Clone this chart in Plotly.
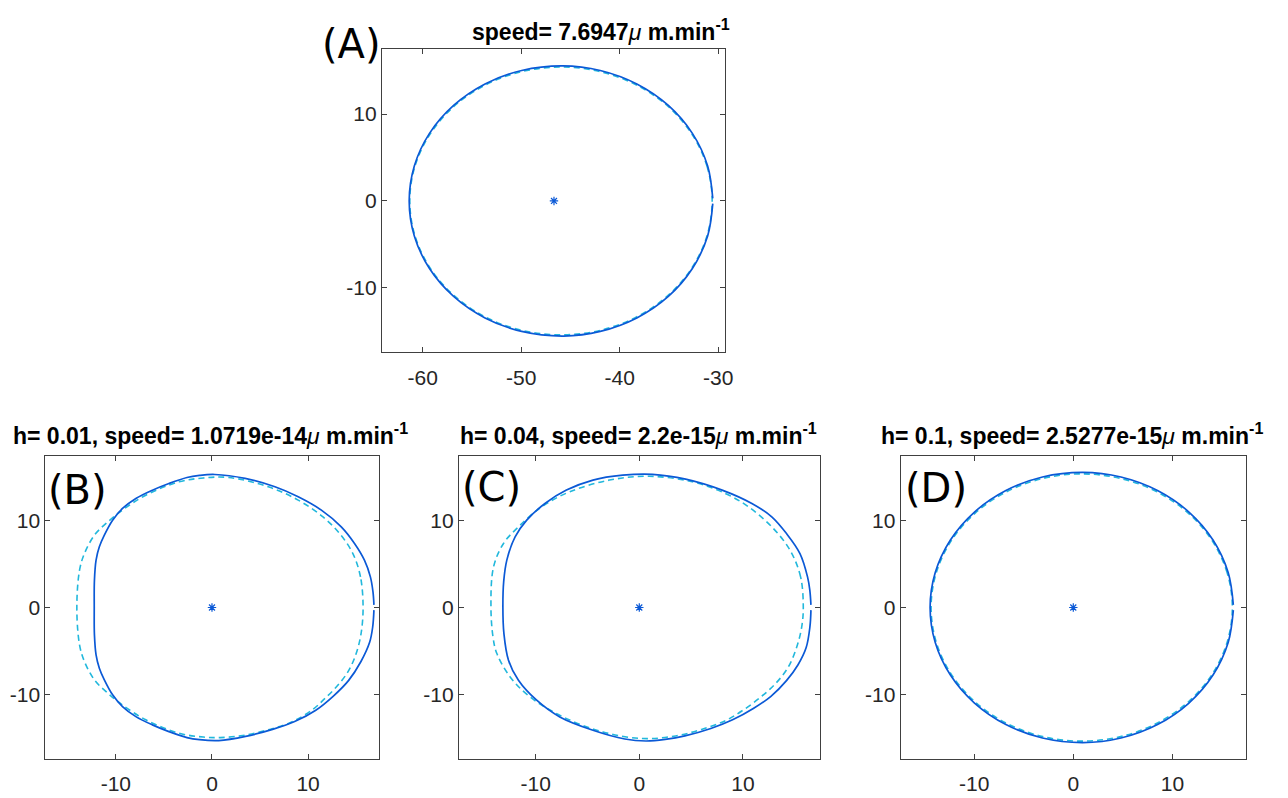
import plotly.graph_objects as go

W, H = 1288, 798

# ---------------- data ----------------
# Panel A
a_solid_x = [-30.55, -31.07, -32.62, -35.06, -38.26, -41.97, -45.8, -49.95, -53.67, -56.86, -59.31, -60.85, -61.37,
             -60.85, -59.31, -56.86, -53.67, -49.95, -45.7, -41.97, -38.26, -35.06, -32.62, -31.07, -30.55]
a_solid_y = [0.3, 4.02, 7.77, 10.98, 13.45, 15.0, 15.53, 15.0, 13.45, 10.98, 7.77, 4.02, 0,
             -4.02, -7.77, -10.98, -13.45, -15.0, -15.53, -15.0, -13.45, -10.98, -7.77, -4.02, -0.3]
a_dash_x = [-30.61, -31.13, -32.67, -35.11, -38.29, -41.99, -45.96, -49.93, -53.64, -56.81, -59.25, -60.79, -61.31,
            -60.79, -59.25, -56.81, -53.64, -49.93, -45.96, -41.99, -38.29, -35.11, -32.67, -31.13, -30.61]
a_dash_y = [0, 3.99, 7.70, 10.89, 13.34, 14.88, 15.40, 14.88, 13.34, 10.89, 7.70, 3.99, 0,
            -3.99, -7.70, -10.89, -13.34, -14.88, -15.40, -14.88, -13.34, -10.89, -7.70, -3.99, 0]
a_center = (-46.67, 0)

# Panel B
b_solid_x = [16.85, 16.75, 16.48, 15.86, 14.83, 13.45, 11.38, 8.97, 6.55, 3.45, 0.3, -1.3, -2.6, -4.48, -6.2,
             -7.92, -9.31, -10.34, -11.2, -11.72, -12.06, -12.23, -12.25, -12.23, -12.06, -11.72, -11.2, -10.34,
             -9.31, -7.92, -6.2, -4.48, -2.6, -1.3, 0.7, 3.5, 6.3, 8.6, 10.8, 12.6, 14.2, 15.5, 16.4, 16.72, 16.85]
b_solid_y = [0.3, 1.8, 3.52, 5.44, 7.36, 9.27, 11.19, 12.72, 13.87, 14.83, 15.28, 15.18, 14.94, 14.25, 13.48,
             12.53, 11.38, 10.03, 8.31, 6.97, 5.44, 3.14, 0, -3.14, -5.44, -6.97, -8.31, -10.03,
             -11.38, -12.53, -13.48, -14.25, -14.94, -15.18, -15.28, -14.8, -14.0, -13.1, -11.8, -10.2, -8.4,
             -6.2, -4.0, -2.23, -0.3]
b_dash_x = [15.72, 15.45, 14.66, 13.28, 11.55, 8.97, 5.86, 1.72, -0.9, -3.44, -6.89, -9.31, -11.02, -12.23,
            -13.27, -13.78, -14.06, -13.78, -13.27, -12.23, -11.02, -9.31, -6.89, -3.44, -0.9, 0.85, 3.2, 6.0,
            8.4, 10.5, 11.7, 12.93, 14.14, 15.0, 15.51, 15.72]
b_dash_y = [0, 3.52, 6.2, 8.5, 10.4, 12.34, 13.87, 14.94, 14.88, 14.44, 12.9, 11.2, 9.66, 8.31,
            6.2, 4.29, 0, -4.29, -6.2, -8.31, -9.66, -11.2, -12.9, -14.44, -14.88, -14.94, -14.7, -14.0,
            -13.1, -11.7, -10.5, -9.13, -7.4, -5.29, -2.99, 0]

# Panel C
c_solid_x = [16.56, 16.45, 16.23, 15.5, 14.2, 12.78, 10.86, 7.99, 4.47, 1.28, -1.6, -4.47, -7.03, -9.1,
             -10.86, -11.98, -12.78, -13.08, -13.16, -13.06, -12.62, -11.66, -9.9, -7.67, -4.47, -1.4, 0.64,
             2.5, 4.4, 6.9, 9.0, 11.0, 12.7, 14.2, 15.3, 16.1, 16.46, 16.56]
c_solid_y = [0.3, 2.0, 3.52, 6.2, 8.5, 10.42, 11.95, 13.49, 14.75, 15.3, 15.2, 14.64, 13.49, 11.95,
             10.04, 8.12, 5.44, 3.0, 0, -3.0, -6.05, -8.35, -10.65, -12.57, -14.1, -15.1, -15.33,
             -15.15, -14.75, -13.9, -12.9, -11.6, -10.2, -8.4, -6.6, -4.6, -2.23, -0.3]
c_dash_x = [15.82, 15.56, 14.54, 12.78, 10.54, 8.3, 5.11, 0.96, -2.88, -6.7, -9.42, -11.66, -13.1, -14.06,
            -14.31, -14.1, -13.74, -12.46, -10.54, -7.35, -3.5, 0.3, 3.5, 6.0, 8.3, 10.0, 11.7, 13.1, 14.38,
            15.19, 15.67, 15.82]
c_dash_y = [0, 3.52, 6.59, 9.27, 11.57, 13.1, 14.44, 15.08, 14.64, 13.3, 11.57, 9.27, 7.36, 4.67,
            0, -3.5, -5.29, -7.97, -10.27, -12.57, -14.3, -15.05, -14.75, -14.0, -13.0, -11.8, -10.3, -8.8,
            -6.83, -4.53, -2.23, 0]

# Panel D
d_solid_x = [16.15, 15.63, 14.10, 11.67, 8.50, 4.81, 0.95, -3.11, -6.80, -9.97, -12.40, -13.93, -14.45,
             -13.93, -12.40, -9.97, -6.80, -3.11, 0.95, 4.81, 8.50, 11.67, 14.10, 15.63, 16.15]
d_solid_y = [0.3, 4.02, 7.76, 10.97, 13.44, 14.99, 15.52, 14.99, 13.44, 10.97, 7.76, 4.02, 0,
             -4.02, -7.76, -10.97, -13.44, -14.99, -15.52, -14.99, -13.44, -10.97, -7.76, -4.02, -0.3]
d_dash_x = [16.05, 15.53, 14.01, 11.60, 8.45, 4.78, 0.85, -3.08, -6.75, -9.90, -12.31, -13.83, -14.35,
            -13.83, -12.31, -9.90, -6.75, -3.08, 0.85, 4.78, 8.45, 11.60, 14.01, 15.53, 16.05]
d_dash_y = [0, 3.98, 7.68, 10.85, 13.29, 14.83, 15.35, 14.83, 13.29, 10.85, 7.68, 3.98, 0,
            -3.98, -7.68, -10.85, -13.29, -14.83, -15.35, -14.83, -13.29, -10.85, -7.68, -3.98, 0]
bcd_center = (0, 0)

titles = [
    "<b>speed= 7.6947</b><i>μ</i><b> m.min</b><sup><b>-1</b></sup>",
    "<b>h= 0.01, speed= 1.0719e-14</b><i>μ</i><b> m.min</b><sup><b>-1</b></sup>",
    "<b>h= 0.04, speed= 2.2e-15</b><i>μ</i><b> m.min</b><sup><b>-1</b></sup>",
    "<b>h= 0.1, speed= 2.5277e-15</b><i>μ</i><b> m.min</b><sup><b>-1</b></sup>",
]
panel_labels = ["(A)", "(B)", "(C)", "(D)"]
x_ticks_a = [-60, -50, -40, -30]
x_ticks_bcd = [-10, 0, 10]
y_ticks = [-10, 0, 10]

# ---------------- styling / layout ----------------
SOLID = "#0b59d6"
DASH = "#22b8dc"
AX = "#404040"
TXT = "#262626"

def px_x(p):
    return p / W

def px_y(p):
    return 1 - p / H

panels = [
    dict(xd=[384.3, 730.0], yd=[49.3, 352.3], xr=[-64.14, -29.26], xt=x_ticks_a,
         solid=(a_solid_x, a_solid_y), dash=(a_dash_x, a_dash_y), c=a_center),
    dict(xd=[45.7, 381.7], yd=[455.7, 759.0], xr=[-17.33, 17.41], xt=x_ticks_bcd,
         solid=(b_solid_x, b_solid_y), dash=(b_dash_x, b_dash_y), c=bcd_center),
    dict(xd=[461.7, 825.3], yd=[455.7, 759.0], xr=[-17.41, 17.45], xt=x_ticks_bcd,
         solid=(c_solid_x, c_solid_y), dash=(c_dash_x, c_dash_y), c=bcd_center),
    dict(xd=[906.3, 1253.3], yd=[455.7, 759.0], xr=[-17.42, 17.38], xt=x_ticks_bcd,
         solid=(d_solid_x, d_solid_y), dash=(d_dash_x, d_dash_y), c=bcd_center),
]

fig = go.Figure()
layout = {}
for i, p in enumerate(panels):
    n = "" if i == 0 else str(i + 1)
    xa, ya = "x" + n, "y" + n
    fig.add_trace(go.Scatter(x=p["dash"][0], y=p["dash"][1], mode="lines", xaxis=xa, yaxis=ya,
                             line=dict(color=DASH, width=1.6, dash="6px,4px", shape="spline"),
                             showlegend=False, hoverinfo="skip"))
    fig.add_trace(go.Scatter(x=p["solid"][0], y=p["solid"][1], mode="lines", xaxis=xa, yaxis=ya,
                             line=dict(color=SOLID, width=1.7, shape="spline"),
                             showlegend=False, hoverinfo="skip"))
    fig.add_trace(go.Scatter(x=[p["c"][0]], y=[p["c"][1]], mode="markers", xaxis=xa, yaxis=ya,
                             marker=dict(symbol="asterisk-open", size=7, color=SOLID,
                                         line=dict(color=SOLID, width=1.2)),
                             showlegend=False, hoverinfo="skip"))
    common = dict(showgrid=False, zeroline=False, showline=True, linecolor=AX, linewidth=1,
                  mirror="ticks", ticks="inside", ticklen=5, tickcolor=AX, tickwidth=1,
                  tickfont=dict(family="Liberation Sans, Arial, sans-serif", size=21, color=TXT),
                  fixedrange=True)
    layout["xaxis" + n] = dict(common, domain=[px_x(p["xd"][0]), px_x(p["xd"][1])], range=p["xr"],
                               tickvals=p["xt"], ticktext=[str(v) for v in p["xt"]],
                               ticklabelstandoff=6, anchor=ya)
    layout["yaxis" + n] = dict(common, domain=[px_y(p["yd"][1]), px_y(p["yd"][0])], range=[-17.4, 17.44],
                               tickvals=y_ticks, ticktext=[str(v) for v in y_ticks], anchor=xa)

annotations = []
title_pos = [(605, 30), (212, 434), (642.5, 434), (1079, 434)]
for t, (tx, ty) in zip(titles, title_pos):
    annotations.append(dict(text=t, x=px_x(tx), y=px_y(ty), xref="paper", yref="paper",
                            xanchor="center", yanchor="middle", showarrow=False,
                            font=dict(family="Liberation Sans, Arial, sans-serif", size=23, color="#000000")))
label_pos = [(354, 44), (77.7, 490), (494.7, 487), (941.7, 488)]
for t, (tx, ty) in zip(panel_labels, label_pos):
    annotations.append(dict(text=t, x=px_x(tx), y=px_y(ty), xref="paper", yref="paper",
                            xanchor="center", yanchor="middle", showarrow=False,
                            font=dict(family="DejaVu Sans, sans-serif", size=40, color="#000000")))

fig.update_layout(**layout)
fig.update_layout(width=W, height=H, margin=dict(l=0, r=0, t=0, b=0), autosize=False,
                  paper_bgcolor="white", plot_bgcolor="white", annotations=annotations)

fig.write_html("out.html", config={"responsive": False, "displayModeBar": False},
               post_script="document.body.style.margin='0';document.body.style.overflow='hidden';")
